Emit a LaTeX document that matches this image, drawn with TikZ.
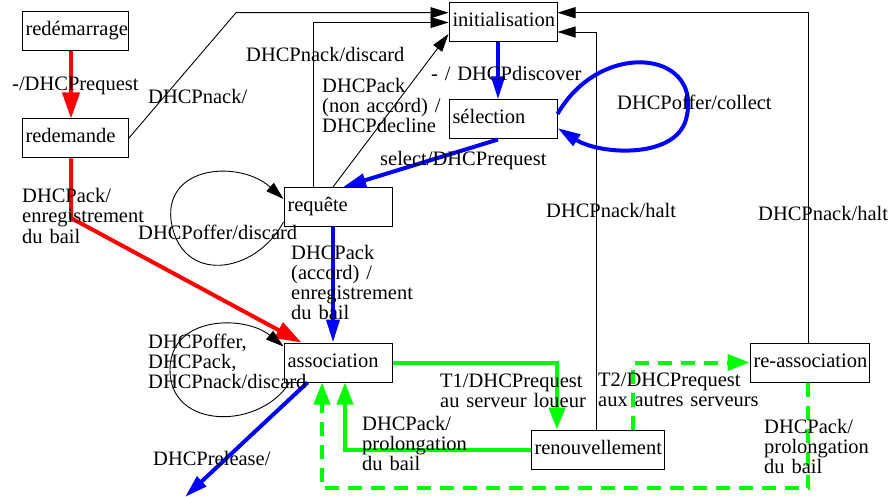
\documentclass[tikz,border=0pt]{standalone}
\usepackage{fontspec}
\setmainfont{Liberation Serif}
\usetikzlibrary{arrows.meta}
\definecolor{pred}{RGB}{255,0,0}
\definecolor{pblue}{RGB}{0,0,255}
\definecolor{pgreen}{RGB}{0,255,0}
\begin{document}
\begin{tikzpicture}[x=1pt,y=-1pt,
  font=\fontsize{20.5pt}{20pt}\selectfont,
  state/.style={draw, line width=1pt, rectangle, minimum height=39pt,
    inner xsep=3.5pt, inner ysep=0pt, text height=14pt, text depth=5pt,
    align=left, text width=#1},
  lbl/.style={anchor=base west, inner sep=0pt, text width=230pt, align=left},
  thin/.style={draw=black, line width=0.9pt, -{Triangle[length=18pt,width=11pt]}},
  redarr/.style={draw=pred, line width=4pt, -{Triangle[length=26pt,width=17pt]}},
  bluearr/.style={draw=pblue, line width=4pt, -{Triangle[length=23pt,width=13pt]}},
  greenarr/.style={draw=pgreen, line width=4pt, -{Triangle[length=22pt,width=16pt]}},
  greendash/.style={greenarr, dash pattern=on 14pt off 9pt},
]
\useasboundingbox (0,0) rectangle (891,497);

% states
\node[state=99pt]  (restart)   at (75,31.5)    {redémarrage};
\node[state=99pt]  (rerequest) at (75,138.5)   {redemande};
\node[state=101pt] (init)      at (503,22.5)   {initialisation};
\node[state=101pt] (select)    at (503,119.5)  {sélection};
\node[state=101pt] (request)   at (338,207)    {requête};
\node[state=101pt] (bound)     at (338,362.5)  {association};
\node[state=126pt] (renew)     at (597.5,449.5){renouvellement};
\node[state=112pt] (rebind)    at (809.5,362.5){\mbox{re-association}};

% bend points and free ends
\coordinate (nackbend) at (236,12.7);
\coordinate (redbend)  at (71,218);
\coordinate (relend)   at (185,497);
\coordinate (gbot)     at (322,488);

% restart branch (red)
\draw[redarr] ([xshift=-4pt]restart.south) -- ([xshift=-4pt]rerequest.north);
\draw[redarr] ([xshift=-4pt]rerequest.south) -- (redbend) -- ([xshift=18pt]bound.north west);

% thin black transitions back to initialisation
\draw[thin] (rerequest.east) -- (nackbend) -- ([yshift=9.8pt]init.west);
\draw[thin] ([xshift=-25pt]request.north) |- (init.west);
\draw[thin] ([xshift=-5pt]request.north) -- ([yshift=-11.5pt]init.west);
\draw[thin] ([xshift=-1.5pt]renew.north) |- ([yshift=-9.5pt]init.east);
\draw[thin] ([xshift=-1pt]rebind.north) |- ([yshift=9.8pt]init.east);

% self loops
\draw[thin] ([yshift=-15pt]request.west) .. controls (255,275) and (180,285) .. (171,220)
  .. controls (165,165) and (240,160) .. ([yshift=8pt]request.west);
\draw[thin] ([xshift=6pt]bound.south west) .. controls (260,430) and (170,430) .. (170,370)
  .. controls (170,315) and (245,315) .. ([yshift=-4pt]bound.north west);
\draw[bluearr] ([yshift=5.5pt]select.east) .. controls (600,40) and (700,50) .. (687,115)
  .. controls (680,160) and (600,155) .. ([yshift=-8.5pt]select.east);

% discovery and request (blue)
\draw[bluearr] ([xshift=-5pt]init.south) -- ([xshift=-5pt]select.north);
\draw[bluearr] ([xshift=-5pt]select.south) -- ([xshift=5pt]request.north);
\draw[bluearr] ([xshift=-5pt]request.south) -- ([xshift=-5pt]bound.north);
\draw[bluearr] ([xshift=24pt]bound.south west) -- (relend);

% renewal and rebinding (green)
\draw[greenarr] (bound.east) -| ([xshift=-40.5pt]renew.north);
\draw[greenarr] (renew.west) -| ([xshift=7pt]bound.south);
\draw[greendash] ([xshift=35.5pt]renew.north) |- (rebind.west);
\draw[greendash] ([xshift=-1.5pt]rebind.south) |- (gbot) -- ([xshift=-16pt]bound.south);

% labels
\node[lbl] (l1)  at (12,91)    {-/DHCPrequest};
\node[lbl] (l2)  at (148,104)  {DHCPnack/};
\node[lbl] (l3)  at (246,62)   {DHCPnack/discard};
\node[lbl] (l4)  at (322,93)   {DHCPack\\(non accord) /\\DHCPdecline};
\node[lbl] (l5)  at (431,81)   {- / DHCPdiscover};
\node[lbl] (l6)  at (617,110)  {DHCPoffer/collect};
\node[lbl] (l7)  at (380,166)  {select/DHCPrequest};
\node[lbl] (l8)  at (22,203)   {DHCPack/\\enregistrement\\du bail};
\node[lbl] (l9)  at (138,239)  {DHCPoffer/discard};
\node[lbl] (l10) at (291,259)  {DHCPack\\(accord) /\\enregistrement\\du bail};
\node[lbl] (l11) at (546,217)  {DHCPnack/halt};
\node[lbl] (l12) at (758,221)  {DHCPnack/halt};
\node[lbl] (l13) at (148,348)  {DHCPoffer,\\DHCPack,\\DHCPnack/discard};
\node[lbl] (l14) at (153,465)  {DHCPrelease/};
\node[lbl] (l15) at (440,387)  {T1/DHCPrequest\\au serveur loueur};
\node[lbl] (l16) at (598,386)  {T2/DHCPrequest\\aux autres serveurs};
\node[lbl] (l17) at (362,430)  {DHCPack/\\prolongation\\du bail};
\node[lbl] (l18) at (764,433)  {DHCPack/\\prolongation\\du bail};
\end{tikzpicture}
\end{document}
